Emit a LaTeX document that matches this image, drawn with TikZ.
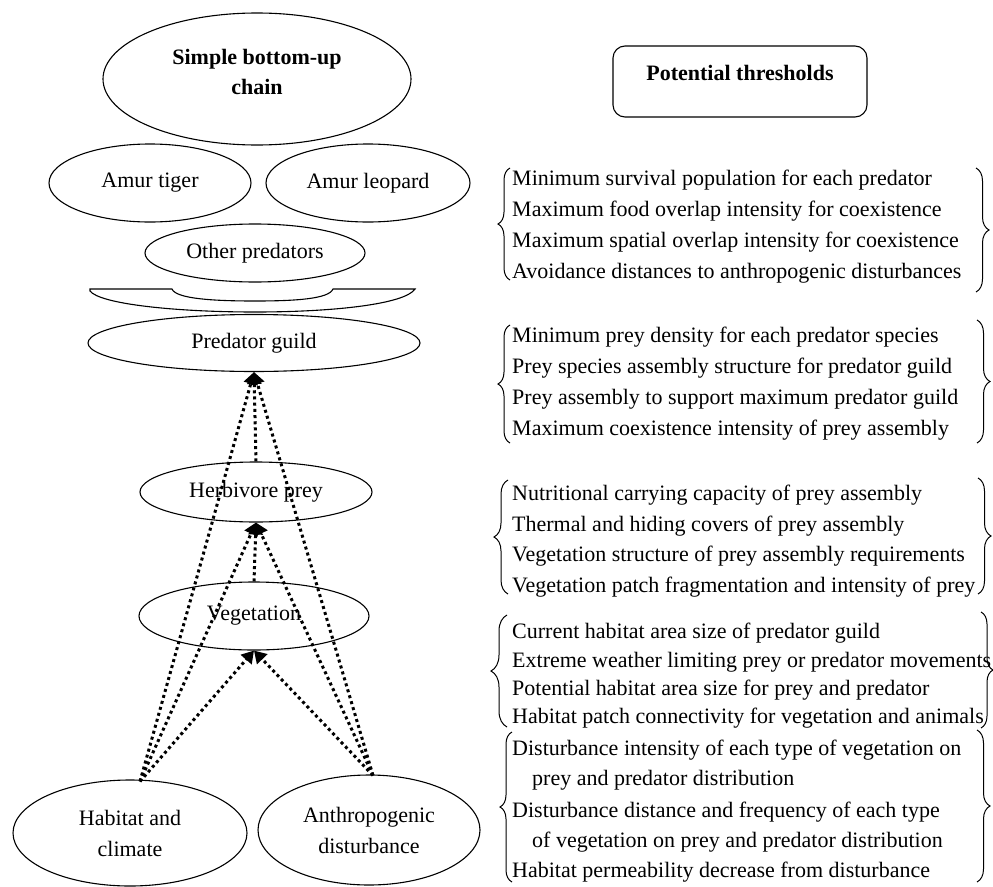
\documentclass[tikz,border=0pt]{standalone}
\usepackage{fontspec}
\setmainfont{Liberation Serif}
\usetikzlibrary{shapes.geometric,arrows.meta,decorations.pathreplacing,calc}
\begin{document}
\begin{tikzpicture}[x=1pt,y=-1pt,
  every node/.style={font=\fontsize{22}{31}\selectfont},
  ell/.style={draw, ellipse, line width=1.1pt, inner sep=0pt, align=center},
  dotarrow/.style={line width=3pt, dash pattern=on 3pt off 3.2pt, -{Triangle[length=12pt,width=14pt]}},
  curly/.style={decorate, decoration={brace, amplitude=#1}, line width=1pt},
  thr/.style={anchor=base west, inner sep=0pt}]
\useasboundingbox (0,0) rectangle (993,886);

% left column
\node[ell, minimum width=308, minimum height=132] (SC) at (257,79) {};
\node[align=center, font=\fontsize{22}{30}\selectfont\bfseries] (SCt) at (257,72) {Simple bottom-up\\chain};
\node[ell, minimum width=202, minimum height=78] (AT) at (150,183) {Amur tiger};
\node[ell, minimum width=204, minimum height=78] (AL) at (368,183) {Amur leopard};
\node[ell, minimum width=220, minimum height=58] (OP) at (255,253) {Other predators};
\draw[line width=1.1pt] (90,289) -- (172,289) .. controls (176,299) and (215,301) .. (255,301)
  .. controls (295,301) and (329,299) .. (333,289) -- (415,289)
  .. controls (405,304) and (335,312) .. (255,312)
  .. controls (175,312) and (100,304) .. (90,291) -- cycle;
\node[ell, minimum width=332, minimum height=57] (PG) at (254,343) {Predator guild};
\node[ell, minimum width=232, minimum height=60] (HP) at (256,492) {Herbivore prey};
\node[ell, minimum width=230, minimum height=68] (VG) at (254,616) {Vegetation};
\node[ell, minimum width=234, minimum height=106] (HC) at (130,833) {Habitat and\\climate};
\node[ell, minimum width=222, minimum height=110] (AD) at (369,830) {Anthropogenic\\disturbance};

\coordinate (hs) at ($(HC.north)+(10,2)$);
\coordinate (as) at ($(AD.north)+(4,1)$);
\foreach \t in {PG,HP,VG} {
  \draw[dotarrow] (hs) -- (\t.south);
  \draw[dotarrow] (as) -- (\t.south);
}
\draw[dotarrow] (HP.north) -- (PG.south);
\draw[dotarrow] (VG.north) -- (HP.south);

% right column
\node[draw, rounded corners=12pt, line width=1.1pt, minimum width=254, minimum height=71,
  font=\fontsize{22}{30}\selectfont\bfseries, text height=16pt, text depth=18pt] (PT) at (740,81.5) {Potential thresholds};

\node[thr] (t11) at (512,185) {Minimum survival population for each predator};
\node[thr] (t12) at (512,216) {Maximum food overlap intensity for coexistence};
\node[thr] (t13) at (512,247) {Maximum spatial overlap intensity for coexistence};
\node[thr] (t14) at (512,278) {Avoidance distances to anthropogenic disturbances};
\draw[curly=12pt] (510,280) -- (510,168);
\draw[curly=13pt] (976,168) -- (976,292);

\node[thr] (t21) at (512,342) {Minimum prey density for each predator species};
\node[thr] (t22) at (512,373) {Prey species assembly structure for predator guild};
\node[thr] (t23) at (512,404) {Prey assembly to support maximum predator guild};
\node[thr] (t24) at (512,435) {Maximum coexistence intensity of prey assembly};
\draw[curly=12pt] (510,443) -- (510,325);
\draw[curly=13pt] (977,320) -- (977,443);

\node[thr] (t31) at (512,500) {Nutritional carrying capacity of prey assembly};
\node[thr] (t32) at (512,531) {Thermal and hiding covers of prey assembly};
\node[thr] (t33) at (512,561) {Vegetation structure of prey assembly requirements};
\node[thr] (t34) at (512,592) {Vegetation patch fragmentation and intensity of prey};
\draw[curly=14pt] (508,594) -- (508,480);
\draw[curly=13pt] (978,478) -- (978,594);

\node[thr] (t41) at (512,638) {Current habitat area size of predator guild};
\node[thr] (t42) at (512,667) {Extreme weather limiting prey or predator movements};
\node[thr] (t43) at (512,695) {Potential habitat area size for prey and predator};
\node[thr] (t44) at (512,723) {Habitat patch connectivity for vegetation and animals};
\draw[curly=16pt] (507,727) -- (507,615);
\draw[curly=12pt] (981,612) -- (981,728);

\node[thr] (t51) at (512,755) {Disturbance intensity of each type of vegetation on};
\node[thr] (t52) at (532,785) {prey and predator distribution};
\node[thr] (t53) at (512,817) {Disturbance distance and frequency of each type};
\node[thr] (t54) at (532,847) {of vegetation on prey and predator distribution};
\node[thr] (t55) at (512,877) {Habitat permeability decrease from disturbance};
\draw[curly=12pt] (512,882) -- (512,732);
\draw[curly=13pt] (977,730) -- (977,882);
\end{tikzpicture}
\end{document}
